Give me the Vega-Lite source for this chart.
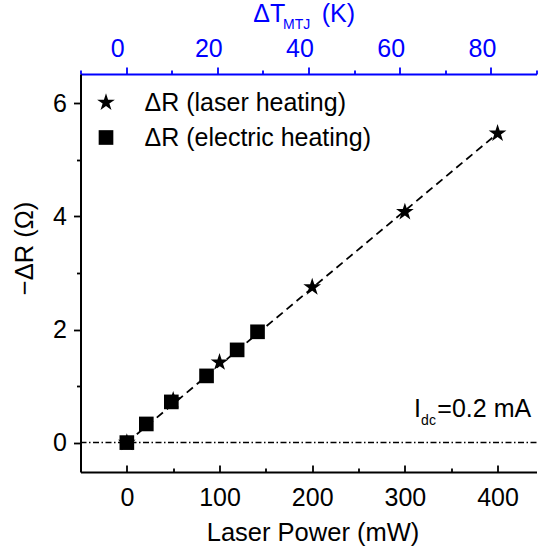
{
  "$schema": "https://vega.github.io/schema/vega-lite/v6.json",
  "width": 456,
  "height": 398,
  "autosize": "none",
  "padding": {"left": 80.5, "top": 74, "right": 4.5, "bottom": 74},
  "config": {
    "font": "Liberation Sans",
    "view": {"stroke": null},
    "axis": {
      "grid": false,
      "domainColor": "black",
      "domainWidth": 2,
      "tickColor": "black",
      "tickWidth": 1.8,
      "labelFont": "Liberation Sans",
      "titleFont": "Liberation Sans",
      "labelFontSize": 25,
      "titleFontSize": 25.5,
      "labelColor": "black",
      "titleColor": "black",
      "titleFontWeight": "normal"
    },
    "legend": {"labelFont": "Liberation Sans"}
  },
  "datasets": {
    "points": [
      {"P": 0, "R": 0, "series": "ΔR (laser heating)"},
      {"P": 50, "R": 0.75, "series": "ΔR (laser heating)"},
      {"P": 100, "R": 1.42, "series": "ΔR (laser heating)"},
      {"P": 200, "R": 2.75, "series": "ΔR (laser heating)"},
      {"P": 300, "R": 4.08, "series": "ΔR (laser heating)"},
      {"P": 400, "R": 5.47, "series": "ΔR (laser heating)"},
      {"P": 0, "R": 0, "series": "ΔR (electric heating)"},
      {"P": 21, "R": 0.33, "series": "ΔR (electric heating)"},
      {"P": 48, "R": 0.72, "series": "ΔR (electric heating)"},
      {"P": 86, "R": 1.18, "series": "ΔR (electric heating)"},
      {"P": 119, "R": 1.64, "series": "ΔR (electric heating)"},
      {"P": 141, "R": 1.96, "series": "ΔR (electric heating)"}
    ],
    "fit": [
      {"P": 0, "R": 0},
      {"P": 400, "R": 5.47}
    ],
    "one": [{}]
  },
  "layer": [
    {
      "data": {"name": "one"},
      "mark": {"type": "rule", "color": "black", "strokeWidth": 1.5, "strokeDash": [6, 2.5, 1.5, 2.5]},
      "encoding": {
        "y": {"datum": 0, "type": "quantitative", "scale": {"domain": [-0.52, 6.52], "nice": false, "zero": false}, "axis": null}
      }
    },
    {
      "data": {"name": "fit"},
      "mark": {"type": "line", "color": "black", "strokeWidth": 1.8, "strokeDash": [8, 5]},
      "encoding": {
        "x": {"field": "P", "type": "quantitative", "scale": {"domain": [-50, 442], "nice": false, "zero": false}, "axis": null},
        "y": {"field": "R", "type": "quantitative", "scale": {"domain": [-0.52, 6.52], "nice": false, "zero": false}, "axis": null}
      }
    },
    {
      "data": {"name": "points"},
      "mark": {"type": "point", "filled": true, "color": "black", "opacity": 1, "size": 215},
      "encoding": {
        "x": {
          "field": "P",
          "type": "quantitative",
          "scale": {"domain": [-50, 442], "nice": false, "zero": false},
          "axis": {
            "orient": "bottom",
            "values": [0, 100, 200, 300, 400],
            "format": "d",
            "tickSize": -7,
            "labelPadding": 20,
            "title": "Laser Power (mW)",
            "titleX": 232,
            "titleY": 68,
            "titleBaseline": "alphabetic",
            "titleAlign": "center"
          }
        },
        "y": {
          "field": "R",
          "type": "quantitative",
          "scale": {"domain": [-0.52, 6.52], "nice": false, "zero": false},
          "axis": {
            "orient": "left",
            "values": [0, 2, 4, 6],
            "format": "d",
            "tickSize": 7,
            "labelPadding": 7,
            "title": "−ΔR (Ω)",
            "titleX": -48,
            "titleY": 174,
            "titleAngle": -90,
            "titleBaseline": "alphabetic",
            "titleAlign": "center"
          }
        },
        "shape": {
          "field": "series",
          "type": "nominal",
          "sort": null,
          "scale": {
            "domain": ["ΔR (laser heating)", "ΔR (electric heating)"],
            "range": ["M0,-1.27L0.285,-0.392L1.208,-0.392L0.461,0.15L0.747,1.027L0,0.485L-0.747,1.027L-0.461,0.15L-1.208,-0.392L-0.285,-0.392Z", "square"]
          },
          "legend": {
            "title": null,
            "orient": "none",
            "legendX": 13,
            "legendY": 16,
            "labelFontSize": 25,
            "labelLimit": 400,
            "labelColor": "black",
            "labelOffset": 26,
            "rowPadding": 9,
            "symbolSize": 215,
            "symbolFillColor": "black",
            "symbolStrokeColor": "black",
            "symbolStrokeWidth": 0,
            "padding": 0
          }
        }
      }
    },
    {
      "data": {"name": "one"},
      "mark": {"type": "point", "opacity": 0},
      "encoding": {
        "x": {
          "datum": 0,
          "type": "quantitative",
          "scale": {"domain": [-50, 442], "nice": false, "zero": false},
          "axis": {
            "orient": "bottom",
            "values": [50, 150, 250, 350],
            "tickSize": -4,
            "labels": false,
            "domain": false,
            "title": null
          }
        },
        "y": {
          "datum": 1,
          "type": "quantitative",
          "scale": {"domain": [-0.52, 6.52], "nice": false, "zero": false},
          "axis": {
            "orient": "left",
            "values": [1, 3, 5],
            "tickSize": 4,
            "labels": false,
            "domain": false,
            "title": null
          }
        }
      }
    },
    {
      "data": {"name": "one"},
      "mark": {"type": "point", "opacity": 0},
      "encoding": {
        "x": {
          "datum": 0,
          "type": "quantitative",
          "scale": {"domain": [-10, 90], "nice": false, "zero": false},
          "axis": {
            "orient": "top",
            "values": [0, 20, 40, 60, 80],
            "tickSize": 7,
            "labelPadding": 6,
            "labelOffset": -9,
            "domainColor": "#0000ff",
            "tickColor": "#0000ff",
            "labelColor": "#0000ff",
            "title": null
          }
        },
        "y": {"datum": 1, "type": "quantitative", "scale": {"domain": [-0.52, 6.52], "nice": false, "zero": false}, "axis": null}
      }
    },
    {
      "data": {"name": "one"},
      "mark": {"type": "point", "opacity": 0},
      "encoding": {
        "x": {
          "datum": 0,
          "type": "quantitative",
          "scale": {"domain": [-10, 90], "nice": false, "zero": false},
          "axis": {
            "orient": "top",
            "values": [-10, 10, 30, 50, 70, 90],
            "tickSize": 4,
            "labels": false,
            "domain": false,
            "tickColor": "#0000ff",
            "title": null
          }
        },
        "y": {"datum": 1, "type": "quantitative", "scale": {"domain": [-0.52, 6.52], "nice": false, "zero": false}, "axis": null}
      }
    },
    {
      "data": {"name": "one"},
      "mark": {"type": "text", "text": "ΔT", "color": "#0000ff", "fontSize": 25, "align": "left", "baseline": "alphabetic"},
      "encoding": {
        "x": {"datum": 136.4, "type": "quantitative", "scale": {"domain": [-50, 442], "nice": false, "zero": false}, "axis": null},
        "y": {"datum": 7.446, "type": "quantitative", "scale": {"domain": [-0.52, 6.52], "nice": false, "zero": false}, "axis": null}
      }
    },
    {
      "data": {"name": "one"},
      "mark": {"type": "text", "text": "MTJ", "color": "#0000ff", "fontSize": 14, "align": "left", "baseline": "alphabetic"},
      "encoding": {
        "x": {"datum": 168.5, "type": "quantitative", "scale": {"domain": [-50, 442], "nice": false, "zero": false}, "axis": null},
        "y": {"datum": 7.312, "type": "quantitative", "scale": {"domain": [-0.52, 6.52], "nice": false, "zero": false}, "axis": null}
      }
    },
    {
      "data": {"name": "one"},
      "mark": {"type": "text", "text": "(K)", "color": "#0000ff", "fontSize": 25, "align": "left", "baseline": "alphabetic"},
      "encoding": {
        "x": {"datum": 210.3, "type": "quantitative", "scale": {"domain": [-50, 442], "nice": false, "zero": false}, "axis": null},
        "y": {"datum": 7.446, "type": "quantitative", "scale": {"domain": [-0.52, 6.52], "nice": false, "zero": false}, "axis": null}
      }
    },
    {
      "data": {"name": "one"},
      "mark": {"type": "text", "text": "I", "color": "black", "fontSize": 25, "align": "left", "baseline": "alphabetic"},
      "encoding": {
        "x": {"datum": 309.8, "type": "quantitative", "scale": {"domain": [-50, 442], "nice": false, "zero": false}, "axis": null},
        "y": {"datum": 0.458, "type": "quantitative", "scale": {"domain": [-0.52, 6.52], "nice": false, "zero": false}, "axis": null}
      }
    },
    {
      "data": {"name": "one"},
      "mark": {"type": "text", "text": "dc", "color": "black", "fontSize": 14, "align": "left", "baseline": "alphabetic"},
      "encoding": {
        "x": {"datum": 317.5, "type": "quantitative", "scale": {"domain": [-50, 442], "nice": false, "zero": false}, "axis": null},
        "y": {"datum": 0.311, "type": "quantitative", "scale": {"domain": [-0.52, 6.52], "nice": false, "zero": false}, "axis": null}
      }
    },
    {
      "data": {"name": "one"},
      "mark": {"type": "text", "text": "=0.2 mA", "color": "black", "fontSize": 25, "align": "left", "baseline": "alphabetic"},
      "encoding": {
        "x": {"datum": 335, "type": "quantitative", "scale": {"domain": [-50, 442], "nice": false, "zero": false}, "axis": null},
        "y": {"datum": 0.458, "type": "quantitative", "scale": {"domain": [-0.52, 6.52], "nice": false, "zero": false}, "axis": null}
      }
    }
  ],
  "resolve": {"scale": {"x": "independent", "y": "independent"}}
}
